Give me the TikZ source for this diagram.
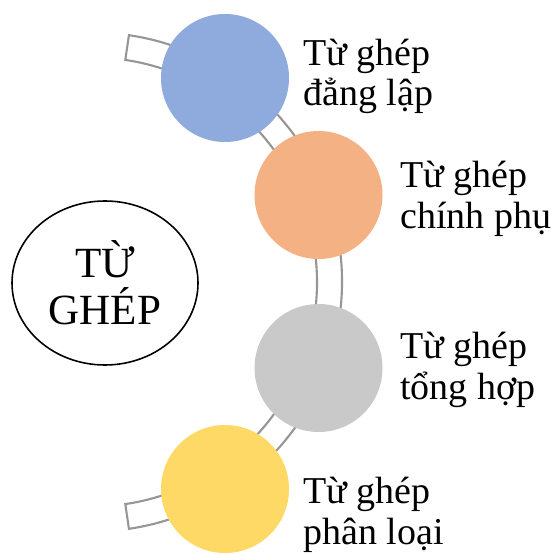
\documentclass[tikz,border=0pt]{standalone}
\usepackage{fontspec}
\setmainfont{Liberation Serif}
\usetikzlibrary{shapes.geometric}
\definecolor{cblue}{HTML}{8FAADC}
\definecolor{corange}{HTML}{F4B183}
\definecolor{cgray}{HTML}{C9C9C9}
\definecolor{cyellow}{HTML}{FFD966}
\definecolor{bandline}{HTML}{969696}

\begin{document}
\begin{tikzpicture}[
  bubble/.style={circle,minimum size=2.56cm,inner sep=0pt},
  wordtext/.style={anchor=base west,align=left,inner sep=0pt,font=\fontsize{21.6}{23.3}\selectfont}
]
\useasboundingbox (0,0) rectangle (11.12,11.08);

% Band
\begin{scope}[shift={(1.85,5.44)}]
\draw[bandline,line width=1.2pt,fill=white] (81.6:4.99) arc[start angle=81.6,end angle=-81.6,radius=4.99]
  -- (-81.6:4.49) arc[start angle=-81.6,end angle=81.6,radius=4.49] -- cycle;
\end{scope}

% Main node
\node[ellipse,draw,line width=0.9pt,minimum width=3.72cm,minimum height=3.28cm,inner sep=0pt,align=center,
  font=\fontsize{24.5}{26.7}\selectfont] (tughep) at (2.10,5.42) {TỪ\\GHÉP};

% Circles
\node[bubble,fill=cblue] (danglap) at (4.50,9.52) {};
\node[bubble,fill=corange] (chinhphu) at (6.37,7.18) {};
\node[bubble,fill=cgray] (tonghop) at (6.37,3.72) {};
\node[bubble,fill=cyellow] (phanloai) at (4.50,1.30) {};

% Labels (base = last line)
\node[wordtext] (danglaptext) at (6.06,8.96) {Từ ghép\\đẳng lập};
\node[wordtext] (chinhphutext) at (8.00,6.52) {Từ ghép\\chính phụ};
\node[wordtext] (tonghoptext) at (8.00,3.10) {Từ ghép\\tổng hợp};
\node[wordtext] (phanloaitext) at (6.06,0.20) {Từ ghép\\phân loại};
\end{tikzpicture}
\end{document}
